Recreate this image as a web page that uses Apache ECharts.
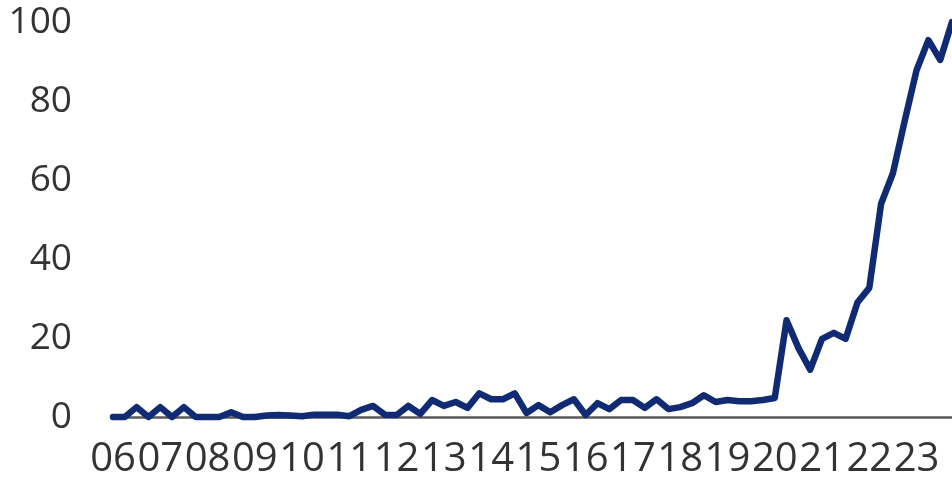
<!DOCTYPE html>
<html>
<head>
<meta charset="utf-8">
<script src="https://cdn.jsdelivr.net/npm/echarts@6/dist/echarts.min.js"></script>
<style>
html,body{margin:0;padding:0;background:#fff;}
#c{width:952px;height:483px;}
</style>
</head>
<body>
<div id="c"></div>
<script>
var years = ['06','07','08','09','10','11','12','13','14','15','16','17','18','19','20','21','22','23'];
var quarters = ['Q1','Q2','Q3','Q4'];
var values = [0,0,2.5,0,2.5,0,2.5,0,0,0,
  1.2,0,0,0.4,0.5,0.4,0.2,0.6,0.6,0.6,
  0.2,1.8,2.8,0.6,0.5,2.8,0.8,4.3,2.8,3.8,
  2.3,6,4.5,4.5,6,1,3,1.2,3,4.5,
  0.5,3.5,2,4.3,4.3,2.3,4.5,2,2.5,3.5,
  5.5,3.8,4.3,4,4,4.3,4.8,24.5,17.5,12,
  19.8,21.3,19.8,29,32.7,54,61.7,75,87.8,95.4,
  90.4,100];
var yTicks = [0,20,40,60,80,100];

var categories = [];
years.forEach(function(y){ quarters.forEach(function(q){ categories.push(y + q); }); });

var chart = echarts.init(document.getElementById('c'), null, {renderer:'canvas'});
chart.setOption({
  backgroundColor:'#ffffff',
  animation:false,
  grid:{left:113, right:0, top:22, bottom:66, containLabel:false},
  xAxis:{
    type:'category',
    data:categories,
    boundaryGap:false,
    axisLine:{show:true, lineStyle:{color:'#5a5a5a', width:2.5}},
    axisTick:{show:false},
    splitLine:{show:false},
    axisLabel:{
      interval:function(idx){ return idx % 4 === 0; },
      formatter:function(v){ return v.slice(0,2); },
      fontFamily:'Open Sans',
      fontSize:40,
      color:'#333333',
      margin:23
    }
  },
  yAxis:{
    type:'value',
    min:yTicks[0],
    max:yTicks[yTicks.length-1],
    interval:20,
    axisLine:{show:false},
    axisTick:{show:false},
    splitLine:{show:false},
    axisLabel:{
      fontFamily:'Open Sans',
      fontSize:37,
      color:'#333333',
      margin:41
    }
  },
  series:[{
    type:'line',
    data:values,
    showSymbol:false,
    clip:false,
    lineStyle:{color:'#102b74', width:6.5, cap:'round', join:'round'}
  }]
});
</script>
</body>
</html>
